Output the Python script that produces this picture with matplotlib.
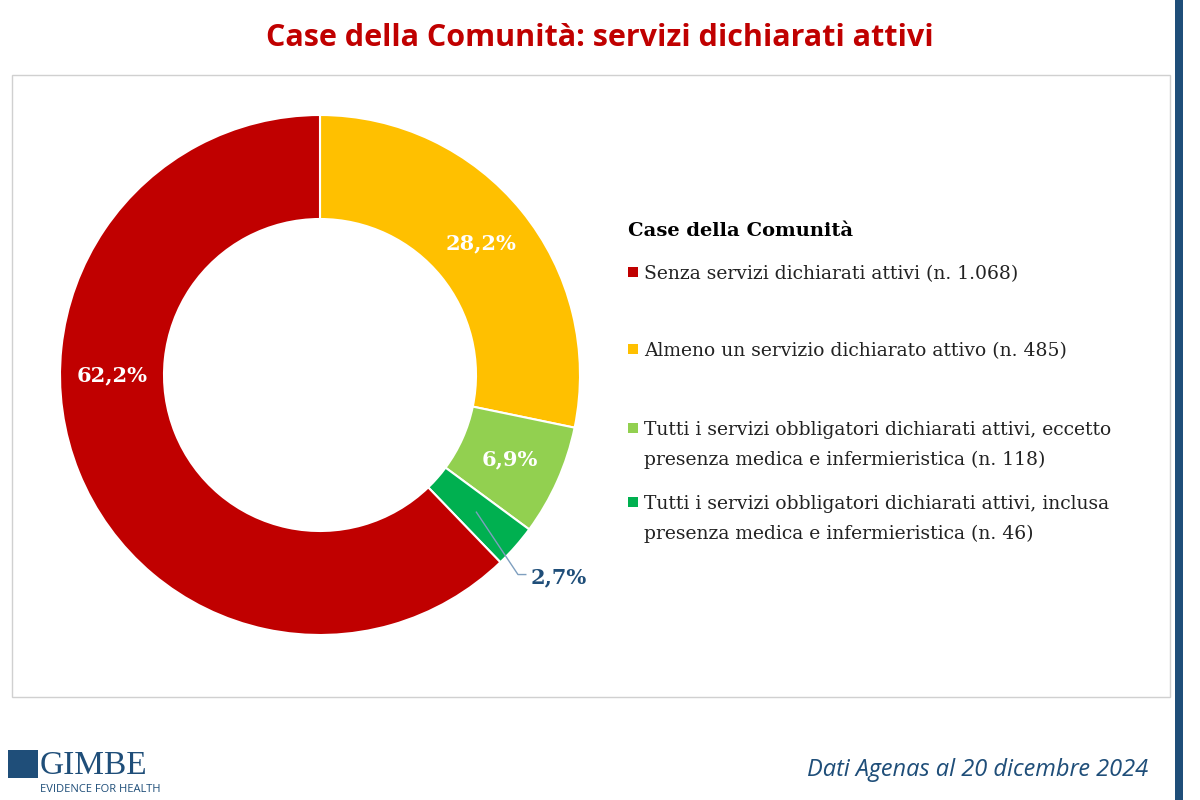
import matplotlib
matplotlib.use("Agg")
import matplotlib.pyplot as plt
import numpy as np
from matplotlib.patches import Rectangle

categories = ["Almeno un servizio dichiarato attivo (n. 485)",
              "Tutti i servizi obbligatori dichiarati attivi, eccetto\npresenza medica e infermieristica (n. 118)",
              "Tutti i servizi obbligatori dichiarati attivi, inclusa\npresenza medica e infermieristica (n. 46)",
              "Senza servizi dichiarati attivi (n. 1.068)"]
counts = [485, 118, 46, 1068]
pct_labels = ["28,2%", "6,9%", "2,7%", "62,2%"]
colors = ["#FFC000", "#92D050", "#00B050", "#C00000"]
legend_order = [3, 0, 1, 2]

fig = plt.figure(figsize=(12, 8), dpi=100)
fig.patch.set_facecolor("white")

fig.add_artist(Rectangle((12/1200, 103/800), 1158/1200, 622/800, transform=fig.transFigure,
                         fill=False, edgecolor="#D0D0D0", lw=1))
fig.add_artist(Rectangle((1175/1200, 0), 8/1200, 1, transform=fig.transFigure,
                         color="#1F4E79", lw=0))

fig.text(0.5, 762/800, "Case della Comunità: servizi dichiarati attivi", ha="center", va="center",
         color="#C00000", fontsize=22, fontweight="bold", family="Open Sans")

ax = fig.add_axes([60/1200, 165/800, 520/1200, 520/800])
wedges, _ = ax.pie(counts, colors=colors, startangle=90, counterclock=False, radius=1,
                   wedgeprops=dict(width=0.4, edgecolor="white", linewidth=1.5))
ax.set_xlim(-1, 1); ax.set_ylim(-1, 1); ax.set_aspect("equal"); ax.axis("off")

total = sum(counts)
ang = 90.0
for i, (c, lab) in enumerate(zip(counts, pct_labels)):
    span = 360.0 * c / total
    mid = np.deg2rad(ang - span / 2)
    ang -= span
    if i == 2:
        x0, y0 = 0.8 * np.cos(mid), 0.8 * np.sin(mid)
        x1, y1 = x0 + 0.16, y0 - 0.24
        ax.plot([x0, x1, x1 + 0.03], [y0, y1, y1], color="#7F9FBF", lw=1, clip_on=False)
        ax.text(x1 + 0.05, y1 - 0.01, lab, ha="left", va="center", color="#1F4E79",
                fontsize=15, fontweight="bold", family="DejaVu Serif")
    elif i == 3:
        ax.text(-0.8, 0.0, lab, ha="center", va="center", color="white",
                fontsize=15, fontweight="bold", family="DejaVu Serif")
    else:
        r = 0.8
        ax.text(r * np.cos(mid), r * np.sin(mid), lab, ha="center", va="center", color="white",
                fontsize=15, fontweight="bold", family="DejaVu Serif")

fig.text(628/1200, 1 - 231/800, "Case della Comunità", ha="left", va="center",
         fontsize=14, fontweight="bold", family="DejaVu Serif")
ys = [272, 349, 428, 502]
for y, idx in zip(ys, legend_order):
    lines = categories[idx].split("\n")
    fig.add_artist(Rectangle((628/1200, 1 - (y + 5)/800), 10/1200, 10/800,
                             transform=fig.transFigure, color=colors[idx], lw=0))
    for k, ln in enumerate(lines):
        fig.text(644/1200, 1 - (y + 2 + k * 30)/800, ln, ha="left", va="center",
                 fontsize=13.5, family="DejaVu Serif", color="#222222")

fig.text(1148/1200, 1 - 770/800, "Dati Agenas al 20 dicembre 2024", ha="right", va="center",
         fontsize=17, style="italic", color="#1F4E79", family="Open Sans")
fig.add_artist(Rectangle((8/1200, 1 - 778/800), 30/1200, 28/800, transform=fig.transFigure,
                         color="#1F4E79", lw=0))
fig.text(40/1200, 1 - 766/800, "GIMBE", ha="left", va="center", fontsize=24,
         color="#1F4E79", family="Liberation Serif")
fig.text(40/1200, 1 - 790/800, "EVIDENCE FOR HEALTH", ha="left", va="center", fontsize=8,
         color="#1F4E79", family="Open Sans")

fig.savefig("out.png", dpi=100)
